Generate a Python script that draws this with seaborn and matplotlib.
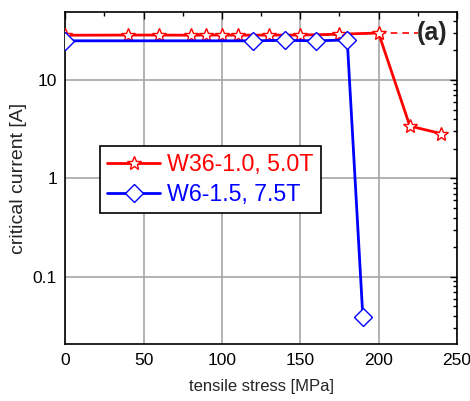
import matplotlib
matplotlib.use("Agg")
import matplotlib.pyplot as plt
import matplotlib.ticker as mticker
from matplotlib.lines import Line2D
import seaborn as sns
import pandas as pd

# data
red_x = [0, 40, 60, 80, 90, 100, 110, 130, 150, 175, 200, 220, 240]
red_y = [28.5, 28.6, 28.6, 28.5, 28.6, 28.6, 28.5, 28.6, 28.6, 29.2, 30.0, 3.4, 2.85]
blue_x = [0, 120, 140, 160, 180, 190]
blue_y = [25.0, 25.0, 25.3, 25.0, 25.5, 0.0386]
ref_black_x = [0, 175]
ref_black_y = [28.4, 28.4]
ref_red_x = [200, 225]
ref_red_y = [30.0, 30.0]
labels = ["W36-1.0, 5.0T", "W6-1.5, 7.5T"]
colors = ["#ff0000", "#0000ff"]

sns.set_theme(style="white")
plt.rcParams['font.family'] = ['Liberation Sans', 'DejaVu Sans']

fig = plt.figure(figsize=(4.70, 4.01), dpi=100)
ax = fig.add_axes([0.139, 0.141, 0.833, 0.830])

df_r = pd.DataFrame({"x": red_x, "y": red_y})
df_b = pd.DataFrame({"x": blue_x, "y": blue_y})

star_ms = 10.5
dia_ms = 9

sns.lineplot(data=df_r, x="x", y="y", ax=ax, color=colors[0], lw=2,
             marker="*", markersize=star_ms, markerfacecolor="white",
             markeredgecolor=colors[0], markeredgewidth=1.0, zorder=3, estimator=None)
sns.lineplot(data=df_b, x="x", y="y", ax=ax, color=colors[1], lw=2,
             marker="D", markersize=dia_ms, markerfacecolor="white",
             markeredgecolor=colors[1], markeredgewidth=1.0, zorder=3, estimator=None)
ax.plot(ref_black_x, ref_black_y, color="black", lw=1.2, ls=(0, (4, 3)), zorder=2.5)
ax.plot(ref_red_x, ref_red_y, color=colors[0], lw=1.2, ls=(0, (4, 3)), zorder=2.5)

ax.set_yscale("log")
ax.set_xlim(0, 250)
ax.set_ylim(0.0205, 49.5)

ax.xaxis.set_major_locator(mticker.MultipleLocator(50))
ax.xaxis.set_minor_locator(mticker.MultipleLocator(25))
ax.yaxis.set_major_locator(mticker.FixedLocator([0.1, 1, 10]))
ax.yaxis.set_minor_locator(mticker.LogLocator(base=10, subs=range(2, 10)))
ax.yaxis.set_major_formatter(mticker.FuncFormatter(lambda v, p: f"{v:g}"))
ax.yaxis.set_minor_formatter(mticker.NullFormatter())

ax.grid(True, which="major", color="#a6a6a6", lw=1.2)
ax.tick_params(which="both", direction="in", top=True, right=True, colors="black",
               labelsize=12.5, pad=6)
ax.tick_params(which="major", length=5, width=1)
ax.tick_params(which="minor", length=3, width=1)
for s in ax.spines.values():
    s.set_color("black")
    s.set_linewidth(1.2)

ax.set_xlabel("tensile stress [MPa]", fontsize=12, labelpad=8)
ax.set_ylabel("critical current [A]", fontsize=14, labelpad=4)
ax.text(0.975, 0.935, "(a)", transform=ax.transAxes, ha="right", va="center",
        fontsize=18, fontweight="bold")

handles = [
    Line2D([], [], color=colors[0], lw=2, marker="*", markersize=star_ms,
           markerfacecolor="white", markeredgecolor=colors[0], markeredgewidth=1.0),
    Line2D([], [], color=colors[1], lw=2, marker="D", markersize=dia_ms,
           markerfacecolor="white", markeredgecolor=colors[1], markeredgewidth=1.0),
]
leg = ax.legend(handles, labels, loc="upper left", bbox_to_anchor=(0.089, 0.595),
                fontsize=16.7, frameon=True, fancybox=False, edgecolor="black",
                framealpha=1, handlelength=2.3, handletextpad=0.3, borderpad=0.3,
                labelspacing=0.3, borderaxespad=0)
leg.get_frame().set_linewidth(1.2)
for t, c in zip(leg.get_texts(), colors):
    t.set_color(c)

fig.savefig("out.png", dpi=100)
